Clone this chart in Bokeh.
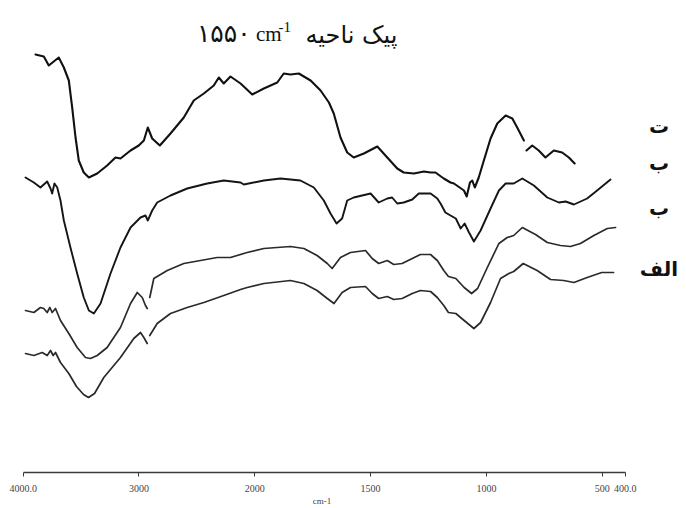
import numpy as np
from bokeh.plotting import figure
from bokeh.models import Range1d, FixedTicker, Label, LinearAxis
from bokeh.embed import file_html
from bokeh.resources import INLINE

nan = float("nan")

# ---- data: wavenumber (cm-1) and relative transmittance (arbitrary units, offset traces)
wn_t = [3894, 3822, 3779, 3736, 3693, 3649, 3606, 3577, 3548, 3520, 3477, 3433, 3361, 3275, 3203,
        3160, 3073, 3002, 2958, 2924, 2886, 2820, 2728, 2613, 2527, 2440, 2354, 2311, 2268, 2210,
        2123, 2022, 1961, 1903, 1875, 1846, 1810, 1759, 1716, 1680, 1659, 1630, 1601, 1573, 1529,
        1471, 1428, 1385, 1357, 1313, 1270, 1241, 1220, 1184, 1155, 1140, 1097, 1085, 1071, 1061,
        1050, 1033, 1011, 982, 953, 917, 888, 867, 838, nan, 827, 802, 774, 745, 709, 673, 644, 619]
tr_t = [418, 416, 407, 411, 415, 405, 392, 365, 335, 312, 300, 295, 299, 307, 315,
        314, 322, 327, 332, 345, 334, 327, 339, 355, 372, 379, 387, 395, 389, 396,
        389, 378, 384, 390, 399, 398, 399, 392, 382, 370, 359, 335, 320, 315, 319,
        326, 315, 304, 300, 299, 301, 300, 300, 294, 290, 289, 282, 276, 290, 292,
        285, 295, 312, 334, 349, 357, 354, 345, 332, nan, 322, 327, 322, 315, 322, 320, 315, 309]

wn_b2 = [3980, 3908, 3851, 3793, 3764, 3750, 3730, 3706, 3678, 3649, 3592, 3534, 3477, 3433, 3390,
         3332, 3246, 3160, 3073, 2987, 2944, 2924, 2886, 2843, 2728, 2584, 2411, 2268, 2123, 2095,
         1961, 1889, 1803, 1745, 1702, 1673, 1647, 1623, 1601, 1573, 1500, 1465, 1428, 1407, 1385,
         1357, 1320, 1292, 1241, 1212, 1198, 1177, 1155, 1132, 1111, 1094, 1075, 1054, 1025, 982,
         946, 917, 882, 845, 795, 737, 687, 658, 622, 565, 522, 464]
tr_b2 = [295, 290, 285, 291, 284, 279, 289, 285, 272, 252, 225, 199, 175, 162, 159,
         169, 199, 225, 245, 255, 257, 252, 262, 270, 277, 284, 289, 292, 290, 288,
         292, 294, 292, 285, 272, 259, 249, 254, 272, 275, 279, 270, 274, 275, 269,
         270, 273, 279, 279, 274, 269, 260, 257, 254, 244, 249, 240, 231, 242, 264,
         282, 289, 289, 294, 287, 275, 270, 271, 268, 274, 282, 293]

wn_b1 = [3980, 3908, 3851, 3822, 3793, 3770, 3750, 3721, 3678, 3606, 3534, 3462, 3419, 3361, 3275,
         3160, 3073, 3015, 2972, 2944, 2929, nan, 2907, 2872, 2756, 2613, 2469, 2325, 2210, 2066,
         1961, 1846, 1788, 1731, 1687, 1666, 1630, 1587, 1522, 1493, 1465, 1428, 1400, 1364, 1320,
         1285, 1241, 1212, 1184, 1164, 1132, 1096, 1064, 1038, 996, 946, 910, 882, 845, 788,
         737, 680, 637, 594, 536, 478, 442]
tr_b1 = [162, 160, 165, 164, 160, 165, 160, 164, 152, 139, 125, 115, 114, 117, 125,
         145, 169, 180, 175, 167, 164, nan, 175, 194, 202, 209, 212, 215, 215, 220,
         224, 226, 224, 217, 209, 204, 215, 220, 222, 214, 209, 212, 208, 209, 214,
         218, 218, 212, 202, 196, 194, 185, 179, 184, 205, 229, 235, 237, 245, 238,
         230, 227, 226, 229, 237, 244, 245]

wn_a = [3980, 3908, 3836, 3793, 3764, 3741, 3721, 3678, 3606, 3540, 3479, 3436, 3384, 3304, 3160,
        3045, 2987, 2958, 2929, nan, 2907, 2843, 2728, 2584, 2440, 2268, 2123, 2066, 1961, 1846,
        1788, 1731, 1687, 1658, 1623, 1587, 1522, 1493, 1465, 1428, 1400, 1364, 1320, 1285, 1241,
        1212, 1184, 1164, 1132, 1096, 1054, 1025, 982, 939, 903, 882, 841, 781, 723, 666,
        622, 565, 502, 451]
tr_a = [119, 117, 120, 117, 122, 117, 120, 110, 99, 86, 78, 75, 79, 95, 115,
        134, 140, 135, 129, nan, 137, 149, 159, 165, 170, 177, 183, 185, 189, 192,
        189, 182, 174, 169, 180, 185, 186, 179, 174, 176, 173, 174, 179, 182, 181,
        175, 167, 160, 159, 152, 144, 150, 170, 194, 199, 201, 209, 202, 193, 192,
        190, 195, 200, 200]

series_labels = ["ت", "ب", "ب", "الف"]
label_levels = [347, 310, 265, 204]

tick_values = [4000, 3000, 2000, 1500, 1000, 500, 400]
tick_labels = ["4000.0", "3000", "2000", "1500", "1000", "500", "400.0"]

title_number = "۱۵۵۰"
title_unit = "cm"
title_exp = "-1"
title_words = "پیک ناحیه"
x_title = "cm-1"


def axis_pos(w):
    """Instrument axis: 4000-2000 cm-1 at half the scale of 2000-400 cm-1."""
    w = np.asarray(w, dtype=float)
    return np.where(w >= 2000, 4000 - w, 2000 + 2 * (2000 - w))


p = figure(frame_width=686, frame_height=472,
           x_range=Range1d(-196, 5728), y_range=Range1d(0, 472),
           y_axis_type=None, output_backend="svg", toolbar_location=None,
           min_border=0, outline_line_color=None, background_fill_color="white")
p.grid.visible = False

styles = [("#111111", 2.1), ("#151515", 1.9), ("#2a2a2a", 1.7), ("#2a2a2a", 1.7)]
for (wn, tr), (col, lw) in zip([(wn_t, tr_t), (wn_b2, tr_b2), (wn_b1, tr_b1), (wn_a, tr_a)], styles):
    p.line(axis_pos(wn), tr, line_color=col, line_width=lw, line_join="round", line_cap="round")

# curve labels at the right
for txt, lvl in zip(series_labels, label_levels):
    p.add_layout(Label(x=5490, y=lvl, text=txt, text_align="center", text_baseline="middle",
                       text_font="DejaVu Sans", text_font_size="20px", text_font_style="bold",
                       text_color="#111111"))

# title pieces (number, unit, exponent, Persian words)
p.add_layout(Label(x=1500, y=439, text=title_number, text_align="left", text_baseline="alphabetic",
                   text_font="DejaVu Sans", text_font_size="25px", text_color="#111111"))
p.add_layout(Label(x=2010, y=439, text=title_unit, text_align="left", text_baseline="alphabetic",
                   text_font="Liberation Serif", text_font_size="21px", text_color="#111111"))
p.add_layout(Label(x=2205, y=446, text=title_exp, text_align="left", text_baseline="alphabetic",
                   text_font="Liberation Serif", text_font_size="15px", text_color="#111111"))
p.add_layout(Label(x=3232, y=438, text=title_words, text_align="right", text_baseline="alphabetic",
                   text_font="DejaVu Sans", text_font_size="24px", text_color="#111111"))

ax = p.xaxis[0]
tick_pos = [int(v) for v in axis_pos(tick_values)]
ax.ticker = FixedTicker(ticks=tick_pos)
ax.major_label_overrides = {k: v for k, v in zip(tick_pos, tick_labels)}
ax.bounds = (0, 5200)
ax.axis_line_color = "#3a3a3a"
ax.axis_line_width = 1.6
ax.major_tick_line_color = "#3a3a3a"
ax.major_tick_out = 4
ax.major_tick_in = 0
ax.minor_tick_line_color = None
ax.major_label_text_font = "Liberation Sans Narrow"
ax.major_label_text_font_size = "10px"
ax.major_label_text_color = "#444444"
ax.major_label_standoff = 8

# x-axis title, placed as a tick label of a bare second axis
title_axis = LinearAxis(ticker=FixedTicker(ticks=[2580]),
                        major_label_overrides={2580: x_title},
                        axis_line_color=None, major_tick_line_color=None,
                        minor_tick_line_color=None, major_tick_out=0, major_tick_in=0,
                        major_label_standoff=1,
                        major_label_text_font="Liberation Sans Narrow",
                        major_label_text_font_size="9px",
                        major_label_text_color="#444444")
p.add_layout(title_axis, "below")

open("out.html", "w").write(file_html(p, INLINE))
